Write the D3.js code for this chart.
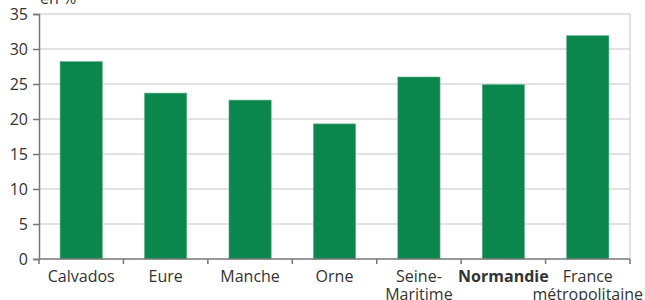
<!DOCTYPE html>
<html>
<head>
<meta charset="utf-8">
<script src="https://cdn.jsdelivr.net/npm/d3@7"></script>
<style>
  body { margin: 0; background: #fff; }
  text { font-family: "Open Sans", sans-serif; fill: #333; }
</style>
</head>
<body>
<div id="chart"></div>
<script>
var categories = [["Calvados"], ["Eure"], ["Manche"], ["Orne"], ["Seine-", "Maritime"], ["Normandie"], ["France", "métropolitaine"]];
var values = [28.2, 23.7, 22.7, 19.3, 26.0, 24.9, 31.9];
var yTicks = [0, 5, 10, 15, 20, 25, 30, 35];
var boldIndex = 5;

var width = 645, height = 300;
var margin = {top: 14, right: 15, bottom: 41, left: 39};
var w = width - margin.left - margin.right;
var h = height - margin.top - margin.bottom;

var svg = d3.select("#chart").append("svg")
  .attr("width", width)
  .attr("height", height);

var plot = svg.append("g")
  .attr("transform", "translate(" + margin.left + "," + margin.top + ")");

var x = d3.scaleBand().domain(d3.range(values.length)).range([0, w]).paddingInner(0.5).paddingOuter(0.25);
var xEdge = d3.scaleBand().domain(d3.range(values.length)).range([0, w]);
var y = d3.scaleLinear().domain([0, 35]).range([h, 0]);

// gridlines
plot.selectAll("line.grid").data(yTicks.slice(1)).enter()
  .append("line")
    .attr("class", "grid")
    .attr("x1", 0).attr("x2", w)
    .attr("y1", d => y(d)).attr("y2", d => y(d))
    .attr("stroke", "#d9d9d9")
    .attr("stroke-width", 1.5);

plot.append("line")
  .attr("x1", w).attr("x2", w)
  .attr("y1", 0).attr("y2", h)
  .attr("stroke", "#d9d9d9")
  .attr("stroke-width", 1.5);

// bars
plot.selectAll("rect").data(values).enter()
  .append("rect")
    .attr("x", (d, i) => x(i))
    .attr("y", d => y(d))
    .attr("width", x.bandwidth())
    .attr("height", d => h - y(d))
    .attr("fill", "#0b864d")
    .attr("stroke", "#5fae88")
    .attr("stroke-width", 0.6);

// y axis
var yAxis = plot.append("g")
  .call(d3.axisLeft(y).tickValues(yTicks).tickSize(6).tickPadding(5));
yAxis.selectAll("text").style("font-size", "16px").attr("dy", "0.35em");
yAxis.select(".domain").attr("stroke", "#777").attr("stroke-width", 1.5);
yAxis.selectAll(".tick line").attr("stroke", "#777").attr("stroke-width", 1.5);

// x axis
var xAxis = plot.append("g").attr("transform", "translate(0," + h + ")");
xAxis.append("line")
  .attr("x1", 0).attr("x2", w)
  .attr("stroke", "#777").attr("stroke-width", 1.5);
xAxis.selectAll("line.tick").data(d3.range(values.length + 1)).enter()
  .append("line")
    .attr("class", "tick")
    .attr("x1", d => d * xEdge.step()).attr("x2", d => d * xEdge.step())
    .attr("y1", 0).attr("y2", 5)
    .attr("stroke", "#777").attr("stroke-width", 1.5);

var labels = xAxis.selectAll("text.cat").data(categories).enter()
  .append("text")
    .attr("class", "cat")
    .attr("text-anchor", "middle")
    .attr("x", (d, i) => x(i) + x.bandwidth() / 2)
    .attr("y", 22.5)
    .style("font-size", "16px")
    .style("font-weight", (d, i) => i == boldIndex ? "bold" : "normal");

labels.selectAll("tspan").data(d => d).enter()
  .append("tspan")
    .attr("x", function() { return d3.select(this.parentNode).attr("x"); })
    .attr("dy", (d, i) => i == 0 ? 0 : 18)
    .text(d => d);

// unit label
svg.append("text")
  .attr("x", 40)
  .attr("y", 4)
  .style("font-size", "16px")
  .text("en %");
</script>
</body>
</html>
